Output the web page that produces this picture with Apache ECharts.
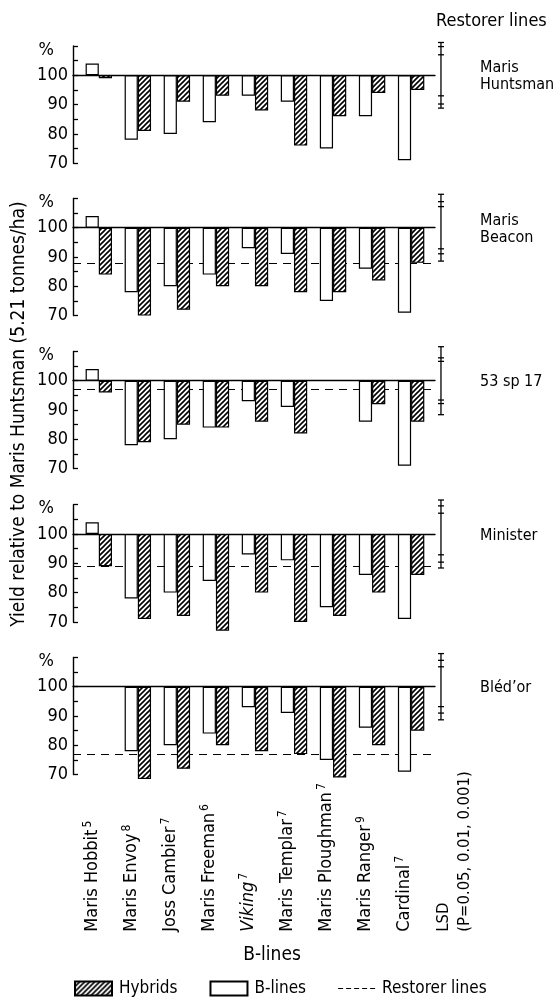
<!DOCTYPE html>
<html><head><meta charset="utf-8">
<script src="https://cdn.jsdelivr.net/npm/echarts@6/dist/echarts.min.js"></script>
<style>html,body{margin:0;padding:0;background:#fff}#c{width:559px;height:1002px}</style>
</head><body><div id="c"></div>
<script>
// ---------- data ----------
const bLineNames = ['Maris Hobbit','Maris Envoy','Joss Cambier','Maris Freeman','Viking','Maris Templar','Maris Ploughman','Maris Ranger','Cardinal'];
const bLineSup = ['5','8','7','6','7','7','7','9','7'];
const lsdLabel = ['LSD','(P=0.05, 0.01, 0.001)'];
const restorerNames = ['Maris\nHuntsman','Maris\nBeacon','53 sp 17','Minister','Bl\u00e9d\u2019or'];
const restorerYield = [null, 88, 97, 89, 77];
const bLineYield = [
  [104,78,80,84,93,91,75,86,71],
  [104,78,80,84,93,91,75,86,71],
  [104,78,80,84,93,91,null,86,71],
  [104,78,80,84,93,91,75,86,71],
  [null,78,80,84,93,91,75,86,71]
];
const hybridYield = [
  [99,81,91,93,88,76,86,94,95],
  [84,70,72,80,80,78,78,82,88],
  [96,79,85,84,86,82,null,92,86],
  [89,71,72,67,80,70,72,80,86],
  [null,68.5,72,80,78,77,69,80,85]
];
const lsdHalf = [[7.0,9.8,11.2],[7.2,8.9,11.4],[6.6,7.8,11.6],[7.1,9.6,11.6],[6.8,9.0,11.3]];
const yTickLabels = {70:'70',80:'80',90:'90',100:'100',110:'%'};
const lsdPos = 8.765;

// ---------- layout ----------
const F = "'DejaVu Sans Condensed','Liberation Sans Narrow','Liberation Sans',sans-serif";
const y100 = [75.3, 227.7, 380.7, 534.0, 686.7];
const pxPerUnit = 2.93;
const gridLeft = 73, gridRight = 559 - 435;

// hatch pattern
const pc = document.createElement('canvas'); pc.width = 5; pc.height = 5;
const g = pc.getContext('2d');
g.fillStyle = '#fff'; g.fillRect(0,0,5,5);
g.strokeStyle = '#000'; g.lineWidth = 1.6;
g.beginPath();
g.moveTo(-1,6); g.lineTo(6,-1);
g.moveTo(-1,1); g.lineTo(1,-1);
g.moveTo(4,6); g.lineTo(6,4);
g.stroke();
const hatch = {image: pc, repeat: 'repeat'};

const grids = [], xAxes = [], yAxes = [], series = [], graphics = [];

y100.forEach((yc, i) => {
  grids.push({left: gridLeft, right: gridRight, top: yc - 10*pxPerUnit, height: 40*pxPerUnit});
  xAxes.push({type:'value', gridIndex:i, min:-0.661, max:8.612,
    axisLine:{show:true, onZero:true, lineStyle:{color:'#000', width:1.4}},
    axisTick:{show:false}, axisLabel:{show:false}, splitLine:{show:false}});
  yAxes.push({type:'value', gridIndex:i, min:-30, max:10, interval:5,
    axisLine:{show:true, onZero:false, lineStyle:{color:'#000', width:1.4}},
    axisTick:{show:true, inside:true, length:5, lineStyle:{color:'#000', width:1.3}},
    splitLine:{show:false},
    axisLabel:{margin:5, color:'#000', fontFamily:F, fontSize:18,
      formatter: v => { const t = yTickLabels[Math.round(v+100)]; if (!t) return ''; return t === '%' ? '{p|%}' : t; },
      rich:{p:{fontFamily:F, fontSize:18, color:'#000', padding:[8,14,0,0]}}}});
  const toPts = arr => arr.map((v,k) => v == null ? null : [k, v - 100]).filter(p => p);
  series.push({name:'B-lines', type:'bar', xAxisIndex:i, yAxisIndex:i, barWidth:13.2, barGap:'0%', clip:false, z:3,
    itemStyle:{color:'#fff', borderColor:'#000', borderWidth:1.2}, data: toPts(bLineYield[i])});
  series.push({name:'Hybrids', type:'bar', xAxisIndex:i, yAxisIndex:i, barWidth:13.2, barGap:'0%', clip:false, z:3,
    itemStyle:{color:hatch, borderColor:'#000', borderWidth:1.2}, data: toPts(hybridYield[i])});
  const rl = {name:'Restorer lines', type:'line', xAxisIndex:i, yAxisIndex:i, symbol:'none', z:1,
    itemStyle:{color:'#000'}, lineStyle:{color:'#000', width:1.2, type:[5,4]}, data:[]};
  if (restorerYield[i] != null) {
    rl.markLine = {silent:true, z:1, symbol:['none','none'], label:{show:false},
      lineStyle:{color:'#000', width:1.2, type:[8,6]}, data:[{yAxis: restorerYield[i]-100}]};
  }
  series.push(rl);
  series.push({type:'custom', xAxisIndex:i, yAxisIndex:i, clip:false, z:4, silent:true,
    data:[[lsdPos].concat(lsdHalf[i])],
    renderItem:(params, api) => {
      const x = api.value(0);
      const hs = [api.value(1), api.value(2), api.value(3)];
      const outerTop = api.coord([x, hs[2]]), outerBot = api.coord([x, -hs[2]]);
      const children = [{type:'line', shape:{x1:outerTop[0], y1:outerTop[1], x2:outerBot[0], y2:outerBot[1]}, style:{stroke:'#000', lineWidth:1.3}}];
      hs.forEach(h => {
        [h, -h].forEach(s => {
          const p = api.coord([x, s]);
          children.push({type:'line', shape:{x1:p[0]-3, y1:p[1], x2:p[0]+3, y2:p[1]}, style:{stroke:'#000', lineWidth:1.3}});
        });
      });
      return {type:'group', children};
    }});
  graphics.push({type:'text', x:480, y:yc + 1.5, style:{text:restorerNames[i], fill:'#000', font:'16px ' + F, textAlign:'left', textVerticalAlign:'middle', lineHeight:17}});
});

// label grid (category names, rotated)
const li = y100.length;
grids.push({left:72.7, right:559-463.1, top:931.7, height:1});
const catData = bLineNames.map((n,k) => (k === 4 ? '{it|' + n + '}' : '{n|' + n + '}') + '{s|' + bLineSup[k] + '}');
catData.push({value:'{l|' + lsdLabel[0] + '}\n{l|' + lsdLabel[1] + '}', textStyle:{padding:[21,0,0,0]}});
xAxes.push({type:'category', gridIndex:li, position:'top', data:catData,
  axisLine:{show:false}, axisTick:{show:false}, splitLine:{show:false},
  axisLabel:{rotate:90, margin:0, interval:0, color:'#000', fontFamily:F, fontSize:18, lineHeight:21,
    rich:{n:{fontFamily:F, fontSize:18, color:'#000', lineHeight:21},
          l:{fontFamily:F, fontSize:16.5, color:'#000', lineHeight:21},
          it:{fontFamily:F, fontSize:18, fontStyle:'italic', color:'#000', lineHeight:21},
          s:{fontFamily:F, fontSize:12, color:'#000', verticalAlign:'top', lineHeight:21, padding:[0,0,8,2]}}}});
yAxes.push({type:'value', gridIndex:li, show:false});

graphics.push({type:'text', x:436, y:21, style:{text:'Restorer lines', fill:'#000', font:'18px ' + F, textAlign:'left', textVerticalAlign:'middle'}});
graphics.push({type:'text', x:272, y:955, style:{text:'B-lines', fill:'#000', font:'19px ' + F, textAlign:'center', textVerticalAlign:'middle'}});
graphics.push({type:'text', x:19, y:414, rotation:Math.PI/2, style:{text:'Yield relative to Maris Huntsman (5.21 tonnes/ha)', fill:'#000', font:'19px ' + F, textAlign:'center', textVerticalAlign:'middle'}});

const dashIcon = 'path://M0,0h5v1h-5z M8,0h5v1h-5z M16,0h5v1h-5z M24,0h5v1h-5z M32,0h5v1h-5z';
const chart = echarts.init(document.getElementById('c'), null, {renderer:'canvas'});
chart.setOption({
  animation:false,
  backgroundColor:'#fff',
  grid:grids, xAxis:xAxes, yAxis:yAxes, series:series,
  legend:{data:[{name:'Hybrids', icon:'rect'}, {name:'B-lines', icon:'rect'}, {name:'Restorer lines', icon:dashIcon, itemStyle:{color:'#000'}}],
    left:69, top:975, itemWidth:37, itemHeight:14, itemGap:32, symbolKeepAspect:true,
    textStyle:{fontFamily:F, fontSize:17, color:'#000', padding:[0,0,0,2]}, selectedMode:false},
  graphic:graphics
});
</script></body></html>
